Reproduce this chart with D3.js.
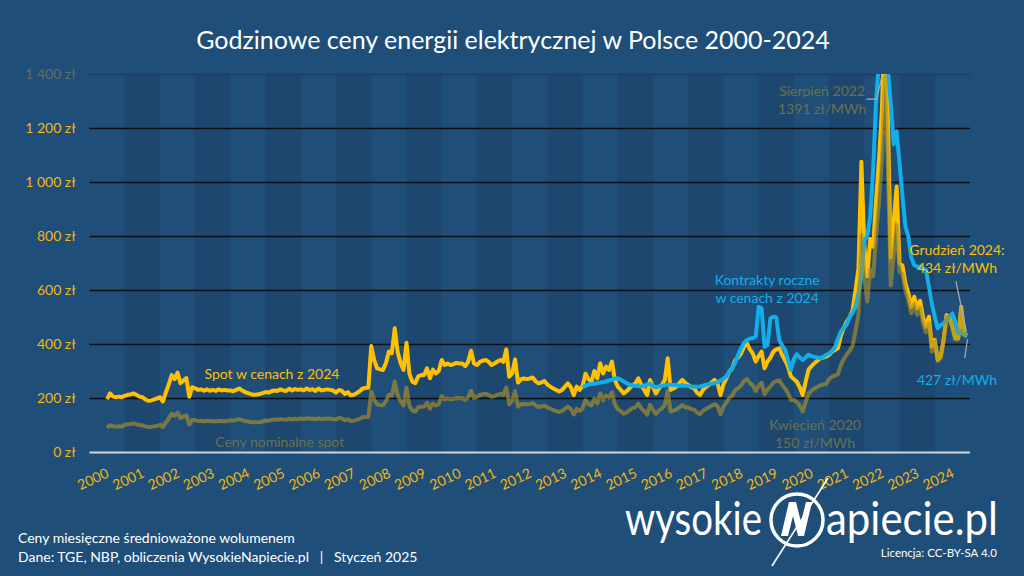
<!DOCTYPE html>
<html><head><meta charset="utf-8">
<script src="https://cdn.jsdelivr.net/npm/d3@7"></script>
<style>
html,body{margin:0;padding:0;background:#1F4E79;}
svg{display:block;}
text{font-family:Lato,"Open Sans",sans-serif;}
</style></head>
<body><svg id="c" width="1024" height="576"></svg>
<script>
// ---------- DATA ----------
const title = "Godzinowe ceny energii elektrycznej w Polsce 2000-2024";
const yTicks = [0, 200, 400, 600, 800, 1000, 1200, 1400];
const xYears = d3.range(2000, 2025);
// monthly spot prices in 2024 prices (zł/MWh), from July 2000 to Dec 2024
const spotStart = 2000 + 6/12;
const spotReal = [
 196,217,205,203,205,203,
 208,212,213,217,212,205,203,195,190,191,195,198,
 203,187,220,250,285,270,294,255,265,274,205,240,
 236,230,232,227,232,227,230,226,232,228,230,228,
 228,225,230,235,228,222,218,214,212,213,215,218,
 222,220,225,228,226,232,228,226,234,228,233,230,
 232,228,235,230,232,226,235,228,230,232,230,228,
 220,230,226,215,222,210,212,218,225,235,237,238,
 393,340,310,306,304,330,372,366,458,370,330,304,
 405,290,260,255,280,285,285,310,273,305,291,300,
 341,322,328,322,325,330,328,328,318,334,375,328,
 322,334,338,341,334,322,328,335,341,334,380,279,
 291,343,257,270,272,270,272,276,262,254,258,263,
 250,242,235,230,224,230,242,254,240,211,242,230,
 245,290,270,260,300,273,329,291,316,304,335,267,
 242,230,217,225,236,248,254,273,248,230,211,267,
 240,217,235,248,267,347,230,235,242,255,267,255,
 248,240,236,220,211,230,240,248,258,267,254,211,
 250,273,298,310,340,350,365,390,402,380,365,335,
 355,372,310,335,350,372,380,384,359,340,316,280,
 270,260,240,211,260,305,318,329,338,347,350,353,
 360,372,378,384,430,460,482,500,525,600,680,1075,
 760,650,790,760,933,1081,1270,1620,1250,720,850,983,
 700,690,625,588,538,575,532,560,500,464,501,390,
 415,341,353,415,507,500,464,421,421,538,439,434
];
// monthly spot prices, nominal (zł/MWh), from July 2000 to Dec 2024
const spotNominal = [
 90,100,95,94,95,94,
 101,103,104,106,103,100,99,95,93,93,95,96,
 101,93,109,124,141,134,146,126,131,136,102,119,
 118,115,116,114,116,114,115,113,116,114,115,114,
 118,117,119,122,118,115,113,111,110,110,111,113,
 117,116,119,120,119,122,120,119,124,120,123,121,
 124,122,125,123,124,121,125,122,123,124,123,122,
 120,126,124,118,121,115,116,119,123,129,130,130,
 224,194,177,174,173,188,212,209,261,211,188,173,
 239,171,153,150,165,168,168,183,161,180,172,177,
 207,195,199,195,197,200,199,199,193,202,227,199,
 204,211,214,216,211,204,207,212,216,211,240,176,
 191,225,168,177,178,177,178,181,172,166,169,172,
 165,160,155,152,148,152,160,168,159,139,160,152,
 162,192,178,172,198,180,217,192,209,201,221,176,
 159,151,142,147,155,162,166,179,162,151,138,175,
 156,141,153,161,174,226,150,153,158,166,174,166,
 165,159,157,146,140,153,159,165,171,177,169,140,
 169,184,201,209,229,236,246,263,271,256,246,226,
 245,257,214,231,242,257,262,265,248,235,218,193,
 193,185,171,150,185,217,227,235,241,247,250,252,
 270,279,283,288,322,345,361,375,393,449,509,805,
 651,557,677,651,800,926,1088,1391,1071,617,728,842,
 669,659,597,562,514,549,508,535,478,443,478,372,
 411,338,349,411,502,495,459,417,417,533,435,434
];
// annual contracts in 2024 prices (zł/MWh), from Jan 2014 to Dec 2024
const contractStart = 2014;
const contracts = [
 240,245,250,252,253,255,257,258,262,265,268,272,
 273,268,261,255,249,247,245,244,242,246,250,253,
 244,240,243,245,247,249,249,248,247,245,245,245,
 244,243,242,242,243,246,249,251,253,255,258,265,
 272,280,298,311,330,360,385,405,415,420,422,428,
 538,532,390,396,495,501,498,415,395,378,340,304,
 345,362,350,341,350,360,355,352,350,348,352,360,
 365,375,388,420,446,460,472,501,515,538,588,650,
 785,800,872,1044,1300,1450,1500,1480,1420,1291,1140,1187,
 1069,946,835,798,720,692,686,686,680,674,612,550,
 501,458,470,476,490,501,513,482,439,446,433,427
];
const footer1 = "Ceny miesięczne średnioważone wolumenem";
const footer2 = "Dane: TGE, NBP, obliczenia WysokieNapiecie.pl   |   Styczeń 2025";
const license = "Licencja: CC-BY-SA 4.0";

// ---------- STYLE ----------
const C = {bg:"#1F4E79", band:"#1D476F", yellow:"#FFC000", blue:"#12AEEA",
  olive:"#AB9028", oliveText:"#67724D", grid:"#0A0F14", base:"#D0D4D8", top:"#1A3D60"};

const svg = d3.select("#c");
const W = 1024, H = 576;
svg.append("rect").attr("width",W).attr("height",H).attr("fill",C.bg);

const x = d3.scaleLinear().domain([2000, 2025]).range([89.5, 970]);
const y = d3.scaleLinear().domain([0, 1400]).range([452, 74]);

// alternating year bands
svg.append("g").selectAll("rect").data(xYears.filter(d => d % 2 === 1)).join("rect")
  .attr("x", d => x(d)).attr("width", d => x(d+1) - x(d))
  .attr("y", y(1400)).attr("height", y(0) - y(1400)).attr("fill", C.band);

// title
svg.append("text").attr("x", 513).attr("y", 49).attr("text-anchor","middle")
  .attr("fill","#fff").attr("font-size", 25).text(title);

// y axis + grid
const plSep = d3.formatLocale({decimal:",", thousands:" ", grouping:[3], currency:["", " zł"]});
const yFmt = plSep.format("$,.0f");
const yAx = svg.append("g").attr("transform", `translate(${x(2000)},0)`)
  .call(d3.axisLeft(y).tickValues(yTicks).tickFormat(yFmt).tickSize(-(x(2025)-x(2000))).tickPadding(14));
yAx.select(".domain").remove();
yAx.selectAll(".tick line").attr("stroke", d => d === 0 ? C.base : (d === 1400 ? C.top : C.grid))
  .attr("stroke-width", d => d === 0 ? 2 : 1.6);
yAx.selectAll(".tick text").attr("fill", d => d === 1400 ? "#5F6E66" : "#F2B80F")
  .attr("font-size", 14).attr("font-family","Lato,sans-serif");

// x axis labels
const xAx = svg.append("g").attr("transform", `translate(0,${y(0)})`)
  .call(d3.axisBottom(x).tickValues(xYears).tickFormat(d3.format("d")).tickSize(0));
xAx.select(".domain").remove();
xAx.selectAll(".tick text").attr("y", 0).attr("dy", "0.35em")
  .attr("transform", "translate(3,27) rotate(-25)").attr("text-anchor","middle")
  .attr("fill", "#F2B80F").attr("font-size", 14).attr("font-family","Lato,sans-serif");

// clip
svg.append("clipPath").attr("id","clip").append("rect")
  .attr("x", x(2000)).attr("y", y(1400)).attr("width", x(2025)-x(2000)).attr("height", y(0)-y(1400)+10);

const line = d3.line().x(d => x(d.t)).y(d => y(d.v)).curve(d3.curveLinear);
const toPts = (arr, start) => arr.map((v,i) => ({t: start + i/12, v}));

const lines = svg.append("g").attr("clip-path","url(#clip)");
lines.append("path").datum(toPts(spotReal, spotStart)).attr("d", line)
  .attr("fill","none").attr("stroke", C.yellow).attr("stroke-width", 4).attr("stroke-linejoin","round");
lines.append("path").datum(toPts(contracts, contractStart)).attr("d", line)
  .attr("fill","none").attr("stroke", C.blue).attr("stroke-width", 4).attr("stroke-linejoin","round");
lines.append("path").datum(toPts(spotNominal, spotStart)).attr("d", line)
  .attr("fill","none").attr("stroke", C.olive).attr("stroke-opacity", 0.65).attr("stroke-width", 4).attr("stroke-linejoin","round");

// annotations
function label(lines_, cx, cy, color, size) {
  const t = svg.append("text").attr("text-anchor","middle").attr("fill",color).attr("font-size",size||14);
  lines_.forEach((s,i) => t.append("tspan").attr("x", cx).attr("y", cy + i*18).text(s));
  return t;
}
label(["Spot w cenach z 2024"], x(2005.18), y(270), C.yellow);
label(["Ceny nominalne spot"], x(2005.4), y(20), C.oliveText);
label(["Kontrakty roczne", "w cenach z 2024"], x(2019.24), y(620), C.blue);
label(["Kwiecień 2020", "150 zł/MWh"], x(2020.6), y(80), C.oliveText);
label(["Sierpień 2022", "1391 zł/MWh"], x(2020.8), y(1318), C.oliveText);
label(["Grudzień 2024:", "434 zł/MWh"], x(2024.63), y(730), C.yellow);
label(["427 zł/MWh"], x(2024.63), y(250), C.blue);

const ldr = d3.line().x(d => x(d[0])).y(d => y(d[1]));
svg.append("path").attr("d", ldr([[2022.06,1307],[2022.35,1307],[2022.5,1391]]))
  .attr("fill","none").attr("stroke","#A6ADB4").attr("stroke-width",1.2);
svg.append("path").attr("d", ldr([[2024.6,633],[2024.9,445]]))
  .attr("fill","none").attr("stroke","#A6ADB4").attr("stroke-width",1.2);
svg.append("path").attr("d", ldr([[2024.85,348],[2024.93,418]]))
  .attr("fill","none").attr("stroke","#A6ADB4").attr("stroke-width",1.2);

// footer
svg.append("text").attr("x", 18).attr("y", 543).attr("fill","#fff").attr("font-size", 14).text(footer1);
svg.append("text").attr("x", 18).attr("y", 562).attr("fill","#fff").attr("font-size", 14)
  .attr("xml:space","preserve").style("white-space","pre").text(footer2);
svg.append("text").attr("x", 997).attr("y", 557).attr("text-anchor","end").attr("fill","#fff")
  .attr("font-size", 11.5).text(license);

// logo
const logo = svg.append("g");
const lf = '"Liberation Sans Narrow","DejaVu Sans Condensed",sans-serif';
logo.append("text").attr("x", 625).attr("y", 535).attr("fill","#fff").attr("font-size", 46)
  .attr("font-family", lf).attr("textLength", 137).attr("lengthAdjust","spacingAndGlyphs").text("wysokie");
logo.append("text").attr("x", 826).attr("y", 535).attr("fill","#fff").attr("font-size", 46)
  .attr("font-family", lf).attr("textLength", 172).attr("lengthAdjust","spacingAndGlyphs").text("apiecie.pl");
const cx = 797, cy = 520;
logo.append("circle").attr("cx", cx).attr("cy", cy).attr("r", 26).attr("fill","none")
  .attr("stroke","#fff").attr("stroke-width", 3.5);
logo.append("path").attr("transform", `translate(${cx},${cy})`)
  .attr("d", "M-16,16 L-8,-18 L-1,-18 L4,2 L9,-18 L15,-18 L7,16 L1,16 L-4,-4 L-9,16 Z").attr("fill","#fff");
logo.append("line").attr("x1", 828).attr("y1", 478).attr("x2", 772).attr("y2", 566)
  .attr("stroke","#fff").attr("stroke-width", 1.6);
</script></body></html>
